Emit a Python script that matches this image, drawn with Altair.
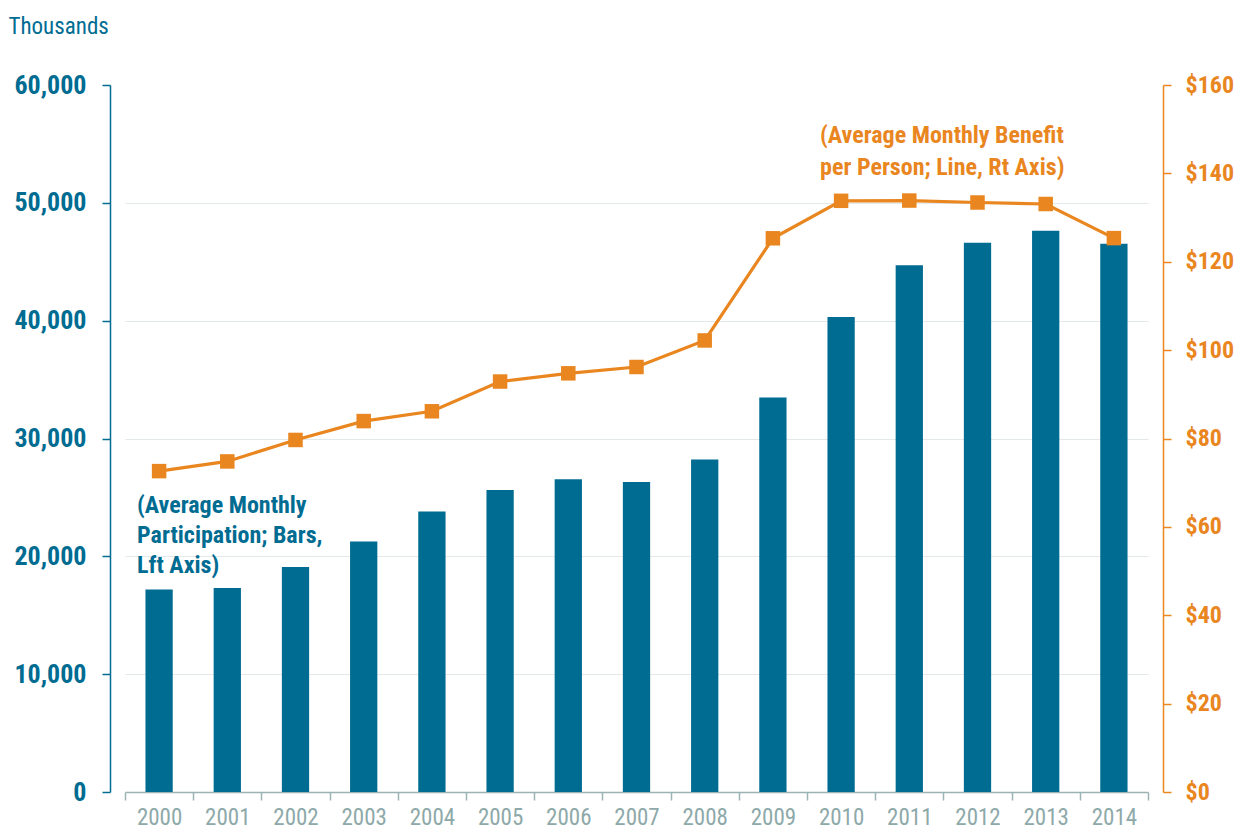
import altair as alt
import pandas as pd

years = [str(y) for y in range(2000, 2015)]
participation = [17194, 17318, 19096, 21250, 23811, 25628, 26549, 26316,
                 28223, 33490, 40302, 44709, 46609, 47636, 46536]
benefit = [72.62, 74.81, 79.67, 83.94, 86.16, 92.89, 94.75, 96.18,
           102.19, 125.31, 133.79, 133.85, 133.41, 133.07, 125.35]
left_ticks = [0, 10000, 20000, 30000, 40000, 50000, 60000]
right_ticks = [0, 20, 40, 60, 80, 100, 120, 140, 160]

bar_note = "(Average Monthly\nParticipation; Bars,\nLft Axis)"
bar_note_year = "2000"
bar_note_value = 23700
line_note = "(Average Monthly Benefit\nper Person; Line, Rt Axis)"
line_note_year = "2010"
line_note_value = 146.9

TEAL = "#006c92"
ORANGE = "#e9861f"
GRAY = "#9db3b3"
GRAYTXT = "#8ea9a9"
FONT = "Liberation Sans Narrow, Roboto Condensed, DejaVu Sans Condensed, sans-serif"

df = pd.DataFrame({"year": years, "participation": participation, "benefit": benefit})
ann1 = pd.DataFrame({"year": [bar_note_year], "participation": [bar_note_value], "text": [bar_note]})
ann2 = pd.DataFrame({"year": [line_note_year], "benefit": [line_note_value], "text": [line_note]})

x_axis = alt.Axis(
    title=None, labelAngle=0, tickBand="extent",
    domainColor=GRAY, tickColor=GRAY, tickSize=8, domainWidth=1.5, tickWidth=1.5,
    labelColor=GRAYTXT, labelFont=FONT, labelFontSize=23, labelPadding=24,
    labelBaseline="alphabetic",
    grid=False,
)
x_enc = alt.X("year:N", scale=alt.Scale(paddingInner=0, paddingOuter=0), axis=x_axis)

left_axis = alt.Axis(
    values=left_ticks, format=",.0f",
    title="Thousands", titleAngle=0, titleX=-102, titleY=-52,
    titleAlign="left", titleBaseline="alphabetic",
    titleFont=FONT, titleFontWeight="normal", titleFontSize=23, titleColor=TEAL,
    labelFont=FONT, labelFontWeight="bold", labelFontSize=26, labelColor=TEAL,
    labelPadding=16,
    domainColor=TEAL, tickColor=TEAL, tickSize=8, domainWidth=1.5, tickWidth=1.5,
    offset=15,
    grid=True, gridColor="#e3e9eb", gridWidth=1,
    gridOpacity=alt.condition("datum.value == 60000 || datum.value == 0",
                              alt.value(0), alt.value(1)),
)
left_y = alt.Y("participation:Q", scale=alt.Scale(domain=[0, 60000]), axis=left_axis)

right_axis = alt.Axis(
    orient="right", values=right_ticks, format="$,.0f", title=None,
    labelFont=FONT, labelFontWeight="bold", labelFontSize=24, labelColor=ORANGE,
    labelPadding=14,
    domainColor=ORANGE, tickColor=ORANGE, tickSize=8, domainWidth=1.5, tickWidth=1.5,
    offset=15, grid=False,
)
right_y = alt.Y("benefit:Q", scale=alt.Scale(domain=[0, 160]), axis=right_axis)

bars = alt.Chart(df).mark_bar(color=TEAL, width={"band": 0.4}).encode(x=x_enc, y=left_y)

text1 = alt.Chart(ann1).mark_text(
    align="left", baseline="alphabetic", dx=-22, lineBreak="\n", lineHeight=30,
    font=FONT, fontWeight="bold", fontSize=24, color=TEAL,
).encode(x=x_enc, y=left_y, text="text:N")

line = alt.Chart(df).mark_line(color=ORANGE, strokeWidth=3.2).encode(x=x_enc, y=right_y)
points = alt.Chart(df).mark_point(shape="square", filled=True, size=210, opacity=1,
                                  color=ORANGE).encode(x=x_enc, y=right_y)

text2 = alt.Chart(ann2).mark_text(
    align="left", baseline="alphabetic", dx=-21, lineBreak="\n", lineHeight=32,
    font=FONT, fontWeight="bold", fontSize=24, color=ORANGE,
).encode(x=x_enc, y=right_y, text="text:N")

left = alt.layer(bars, text1)
right = alt.layer(line, points, text2)

chart = alt.layer(left, right).resolve_scale(y="independent").properties(
    width=1023, height=707,
    autosize=alt.AutoSizeParams(type="none"),
    padding={"left": 117, "top": 77, "right": 86, "bottom": 37},
).configure_view(stroke=None)

chart.save("out.html", embed_options={"renderer": "svg", "actions": False})
